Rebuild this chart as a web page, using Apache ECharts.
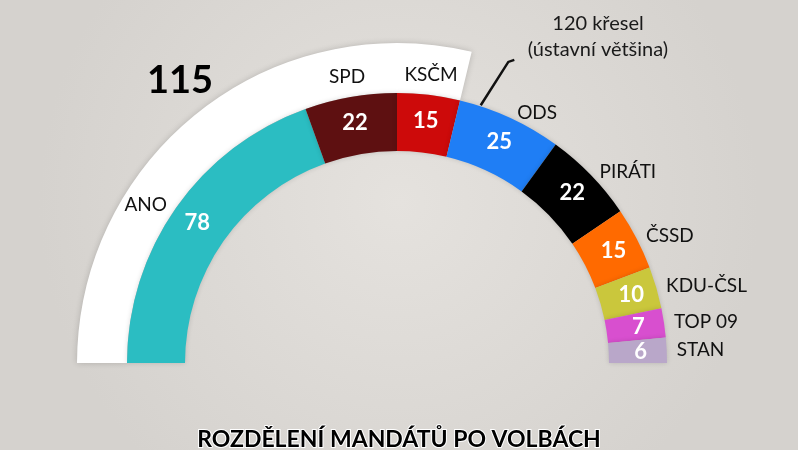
<!DOCTYPE html>
<html>
<head>
<meta charset="utf-8">
<script src="https://cdn.jsdelivr.net/npm/echarts@6/dist/echarts.min.js"></script>
<style>
html,body{margin:0;padding:0;}
#c{width:798px;height:450px;}
</style>
</head>
<body>
<div id="c"></div>
<script>
// ---- data ----
const parties = ['ANO','SPD','KSČM','ODS','PIRÁTI','ČSSD','KDU-ČSL','TOP 09','STAN'];
const seats   = [78, 22, 15, 25, 22, 15, 10, 7, 6];
const colors  = ['#2bbdc2','#5e1011','#cd0a0a','#1f7ef5','#000000','#ff6a00','#cac73c','#d84fcf','#b9a7c9'];
const blocSeats = [115];          // ANO + SPD + KSČM highlighted
const majority = [120];           // constitutional majority
const majorityText = ['120 křesel', '(ústavní většina)'];
const titleText = 'ROZDĚLENÍ MANDÁTŮ PO VOLBÁCH';
const innerLabelParties = ['SPD', 'KSČM'];   // names drawn inside the white band

const total = seats.reduce((a, b) => a + b, 0);
const CX = 397, CY = 363;
const R_IN = 212, R_MID = 270, R_OUT = 320;

const chart = echarts.init(document.getElementById('c'), null, {renderer: 'canvas'});

const partyData = parties.map((p, i) => ({name: p, value: seats[i], itemStyle: {color: colors[i]}}));

// majority marker position derived from value
const ang = Math.PI * (1 - majority[0] / total);
const p0 = [CX + (R_MID + 1) * Math.cos(ang), CY - (R_MID + 1) * Math.sin(ang)];
const ang2 = ang - 0.04;
const p1 = [CX + (R_OUT + 1) * Math.cos(ang2), CY - (R_OUT + 1) * Math.sin(ang2)];
const p2 = [p1[0] + 6, p1[1] - 2];

const nameFont = {fontFamily: 'Lato', fontSize: 19, color: '#111'};

const option = {
  animation: false,
  backgroundColor: {
    type: 'radial', x: 0.5, y: 0.45, r: 0.8,
    colorStops: [
      {offset: 0, color: '#e5e2de'},
      {offset: 1, color: '#d5d2ce'}
    ]
  },
  title: {
    text: titleText,
    left: 'center',
    top: 423,
    textStyle: {
      fontFamily: 'Lato', fontWeight: 'bold', fontSize: 23, color: '#000',
      textBorderColor: '#ffffff', textBorderWidth: 2
    }
  },
  series: [
    {
      type: 'pie', silent: true,
      center: [CX, CY], radius: [R_MID, R_OUT],
      startAngle: 180, endAngle: 0, clockwise: true,
      label: {show: false}, labelLine: {show: false},
      emphasis: {disabled: true},
      itemStyle: {borderWidth: 0},
      data: [
        {name: 'bloc', value: blocSeats[0], itemStyle: {color: '#ffffff', shadowColor: 'rgba(0,0,0,0.18)', shadowBlur: 6}},
        {name: 'rest', value: total - blocSeats[0], itemStyle: {color: 'rgba(0,0,0,0)'}}
      ]
    },
    // names inside the white band (SPD, KSČM)
    {
      type: 'pie', silent: true,
      center: [CX, CY], radius: [R_MID, R_OUT - 16],
      startAngle: 180, endAngle: 0, clockwise: true,
      emphasis: {disabled: true},
      itemStyle: {color: 'rgba(0,0,0,0)', borderWidth: 0},
      label: Object.assign({
        show: true, position: 'inside',
        formatter: p => innerLabelParties.indexOf(p.name) >= 0 ? p.name : ''
      }, nameFont),
      labelLine: {show: false},
      data: parties.map((p, i) => ({name: p, value: seats[i]}))
    },
    // names outside the coloured ring (others)
    {
      type: 'pie', silent: true,
      center: [CX, CY], radius: [R_IN, R_MID],
      startAngle: 180, endAngle: 0, clockwise: true,
      avoidLabelOverlap: false,
      emphasis: {disabled: true},
      itemStyle: {color: 'rgba(0,0,0,0)', borderWidth: 0},
      label: Object.assign({
        show: true, position: 'outside', distanceToLabelLine: 5,
        formatter: p => innerLabelParties.indexOf(p.name) >= 0 ? '' : p.name
      }, nameFont),
      labelLine: {show: false, length: 5, length2: 0},
      data: parties.map((p, i) => ({name: p, value: seats[i]}))
    },
    {
      type: 'pie', silent: true,
      center: [CX, CY], radius: [R_IN, R_MID],
      startAngle: 180, endAngle: 0, clockwise: true,
      emphasis: {disabled: true},
      itemStyle: {borderWidth: 0, shadowColor: 'rgba(0,0,0,0.15)', shadowBlur: 5},
      label: {
        show: true, position: 'inside', formatter: '{c}',
        fontFamily: 'Lato', fontWeight: 'bold', fontSize: 22, color: '#fff'
      },
      labelLine: {show: false},
      data: partyData
    }
  ],
  graphic: [
    {
      type: 'text', left: 147, top: 62,
      style: {text: String(blocSeats[0]), font: 'bold 38px Lato', fill: '#000'}
    },
    {
      type: 'polyline', silent: true,
      shape: {points: [p0, p1, p2]},
      style: {stroke: '#111', lineWidth: 2.5, fill: null}
    },
    {
      type: 'text', x: 598, y: 11,
      style: {
        text: majorityText.join('\n'), font: '20px Lato', fill: '#1a1a1a',
        align: 'center', lineHeight: 26
      }
    }
  ]
};
chart.setOption(option);
</script>
</body>
</html>
